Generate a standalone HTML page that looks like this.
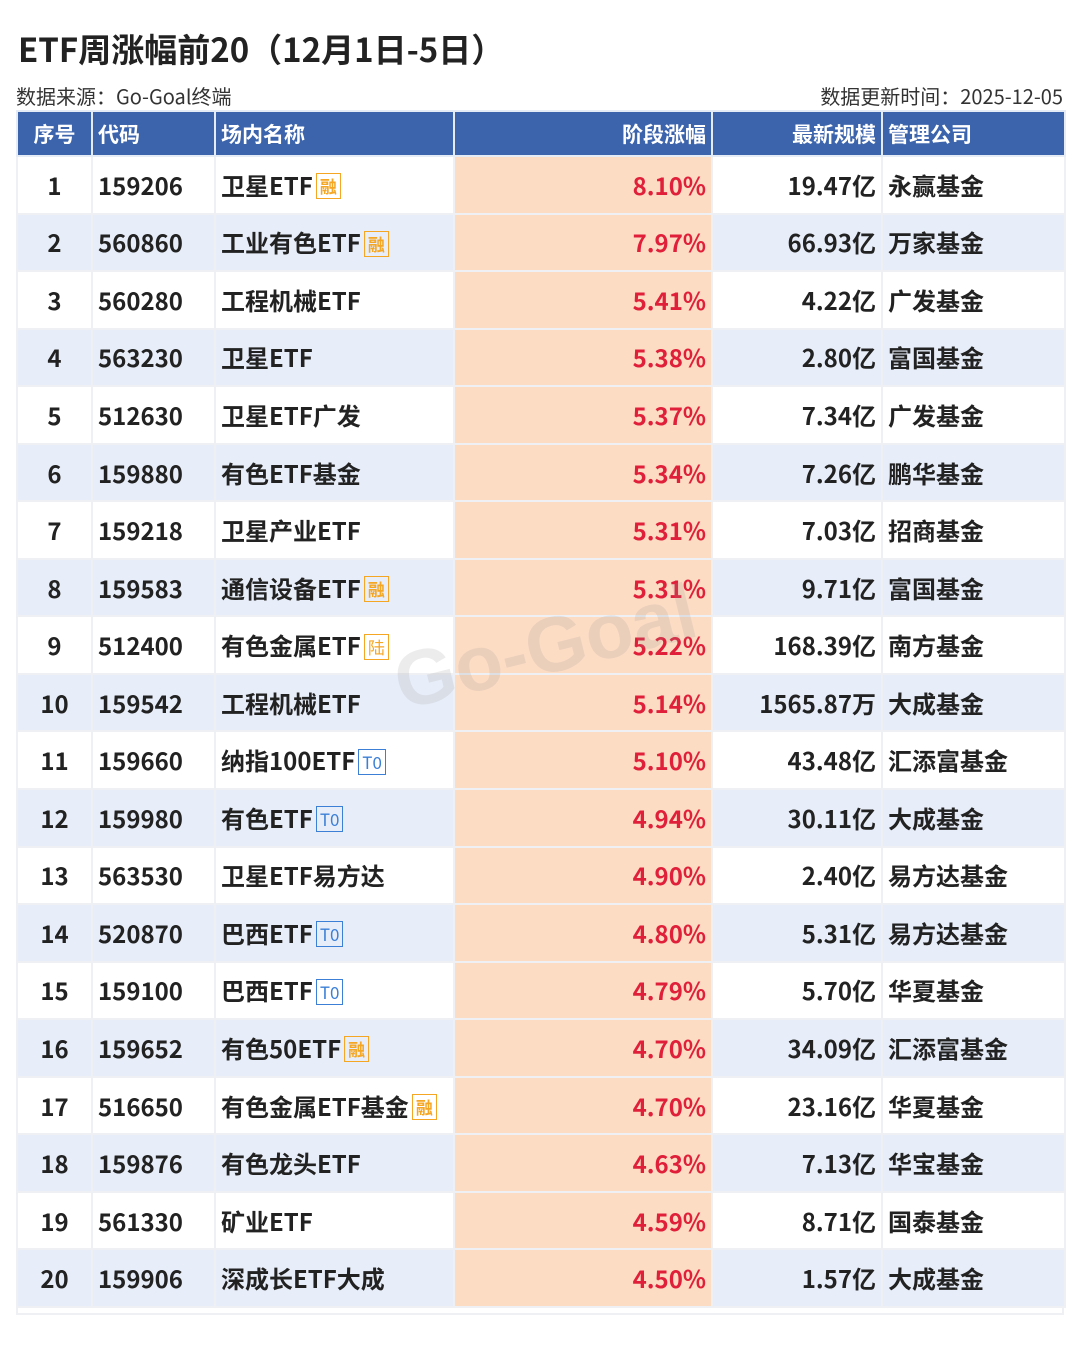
<!DOCTYPE html>
<html><head><meta charset="utf-8"><style>
*{margin:0;padding:0;box-sizing:border-box}
body{width:1080px;height:1346px;background:#fff;font-family:"Noto Sans CJK SC","Liberation Sans",sans-serif;position:relative;overflow:hidden;color:#222}
.t{position:absolute;left:18px;top:25px;font-size:33px;font-weight:bold;color:#222;line-height:46px}
.s1{position:absolute;left:16px;top:82px;font-size:20px;color:#333;line-height:28px}
.s2{position:absolute;right:17px;top:82px;font-size:20px;color:#333;line-height:28px}
table{position:absolute;left:16px;top:110px;width:1048px;border-collapse:collapse;table-layout:fixed}
th{background:#3b64ad;color:#fff;font-size:21px;height:45px;border:2px solid #e6ecf5;font-weight:bold;padding:0 5px;line-height:28px}
td{height:57.55px;font-size:24px;font-weight:bold;border:2px solid #eef0f3;padding:0 5px;color:#222;white-space:nowrap;line-height:30px;vertical-align:middle}
tr:nth-child(odd) td{background:#e8eef9}
td.p{background:#fddcc4!important;color:#e0203a;text-align:right}
.c{text-align:center}.r{text-align:right}.l{text-align:left}
.b{display:inline-block;font-size:17px;font-weight:bold;line-height:20px;height:26px;padding:2px 3px;border:1.5px solid #f5a623;color:#f5a623;vertical-align:middle;margin-left:3px;margin-top:-4px}
.b.t0{border-color:#3b7fd6;color:#3b7fd6;font-weight:normal}
.wm{position:absolute;left:385px;top:640px;font-size:78px;font-weight:bold;color:rgba(150,150,150,0.18);transform:rotate(-14deg);transform-origin:left top;font-family:"Liberation Sans",sans-serif}
.bot{position:absolute;left:16px;top:1306px;width:1048px;height:9px;border:2px solid #eef0f3;border-top:none}
</style></head><body>
<div class="t">ETF周涨幅前20（12月1日-5日）</div>
<div class="s1">数据来源：Go-Goal终端</div>
<div class="s2">数据更新时间：2025-12-05</div>
<table>
<colgroup><col style="width:75px"><col style="width:123px"><col style="width:239px"><col style="width:258px"><col style="width:170px"><col style="width:183px"></colgroup>
<tr><th class="c">序号</th><th class="l">代码</th><th class="l">场内名称</th><th class="r">阶段涨幅</th><th class="r">最新规模</th><th class="l">管理公司</th></tr>
<tr><td class="c">1</td><td>159206</td><td>卫星ETF<span class="b">融</span></td><td class="p">8.10%</td><td class="r">19.47亿</td><td>永赢基金</td></tr>
<tr><td class="c">2</td><td>560860</td><td>工业有色ETF<span class="b">融</span></td><td class="p">7.97%</td><td class="r">66.93亿</td><td>万家基金</td></tr>
<tr><td class="c">3</td><td>560280</td><td>工程机械ETF</td><td class="p">5.41%</td><td class="r">4.22亿</td><td>广发基金</td></tr>
<tr><td class="c">4</td><td>563230</td><td>卫星ETF</td><td class="p">5.38%</td><td class="r">2.80亿</td><td>富国基金</td></tr>
<tr><td class="c">5</td><td>512630</td><td>卫星ETF广发</td><td class="p">5.37%</td><td class="r">7.34亿</td><td>广发基金</td></tr>
<tr><td class="c">6</td><td>159880</td><td>有色ETF基金</td><td class="p">5.34%</td><td class="r">7.26亿</td><td>鹏华基金</td></tr>
<tr><td class="c">7</td><td>159218</td><td>卫星产业ETF</td><td class="p">5.31%</td><td class="r">7.03亿</td><td>招商基金</td></tr>
<tr><td class="c">8</td><td>159583</td><td>通信设备ETF<span class="b">融</span></td><td class="p">5.31%</td><td class="r">9.71亿</td><td>富国基金</td></tr>
<tr><td class="c">9</td><td>512400</td><td>有色金属ETF<span class="b" style="font-weight:normal">陆</span></td><td class="p">5.22%</td><td class="r">168.39亿</td><td>南方基金</td></tr>
<tr><td class="c">10</td><td>159542</td><td>工程机械ETF</td><td class="p">5.14%</td><td class="r">1565.87万</td><td>大成基金</td></tr>
<tr><td class="c">11</td><td>159660</td><td>纳指100ETF<span class="b t0">T0</span></td><td class="p">5.10%</td><td class="r">43.48亿</td><td>汇添富基金</td></tr>
<tr><td class="c">12</td><td>159980</td><td>有色ETF<span class="b t0">T0</span></td><td class="p">4.94%</td><td class="r">30.11亿</td><td>大成基金</td></tr>
<tr><td class="c">13</td><td>563530</td><td>卫星ETF易方达</td><td class="p">4.90%</td><td class="r">2.40亿</td><td>易方达基金</td></tr>
<tr><td class="c">14</td><td>520870</td><td>巴西ETF<span class="b t0">T0</span></td><td class="p">4.80%</td><td class="r">5.31亿</td><td>易方达基金</td></tr>
<tr><td class="c">15</td><td>159100</td><td>巴西ETF<span class="b t0">T0</span></td><td class="p">4.79%</td><td class="r">5.70亿</td><td>华夏基金</td></tr>
<tr><td class="c">16</td><td>159652</td><td>有色50ETF<span class="b">融</span></td><td class="p">4.70%</td><td class="r">34.09亿</td><td>汇添富基金</td></tr>
<tr><td class="c">17</td><td>516650</td><td>有色金属ETF基金<span class="b">融</span></td><td class="p">4.70%</td><td class="r">23.16亿</td><td>华夏基金</td></tr>
<tr><td class="c">18</td><td>159876</td><td>有色龙头ETF</td><td class="p">4.63%</td><td class="r">7.13亿</td><td>华宝基金</td></tr>
<tr><td class="c">19</td><td>561330</td><td>矿业ETF</td><td class="p">4.59%</td><td class="r">8.71亿</td><td>国泰基金</td></tr>
<tr><td class="c">20</td><td>159906</td><td>深成长ETF大成</td><td class="p">4.50%</td><td class="r">1.57亿</td><td>大成基金</td></tr>
</table>
<div class="bot"></div>
<div class="wm">Go-Goal</div>
</body></html>
